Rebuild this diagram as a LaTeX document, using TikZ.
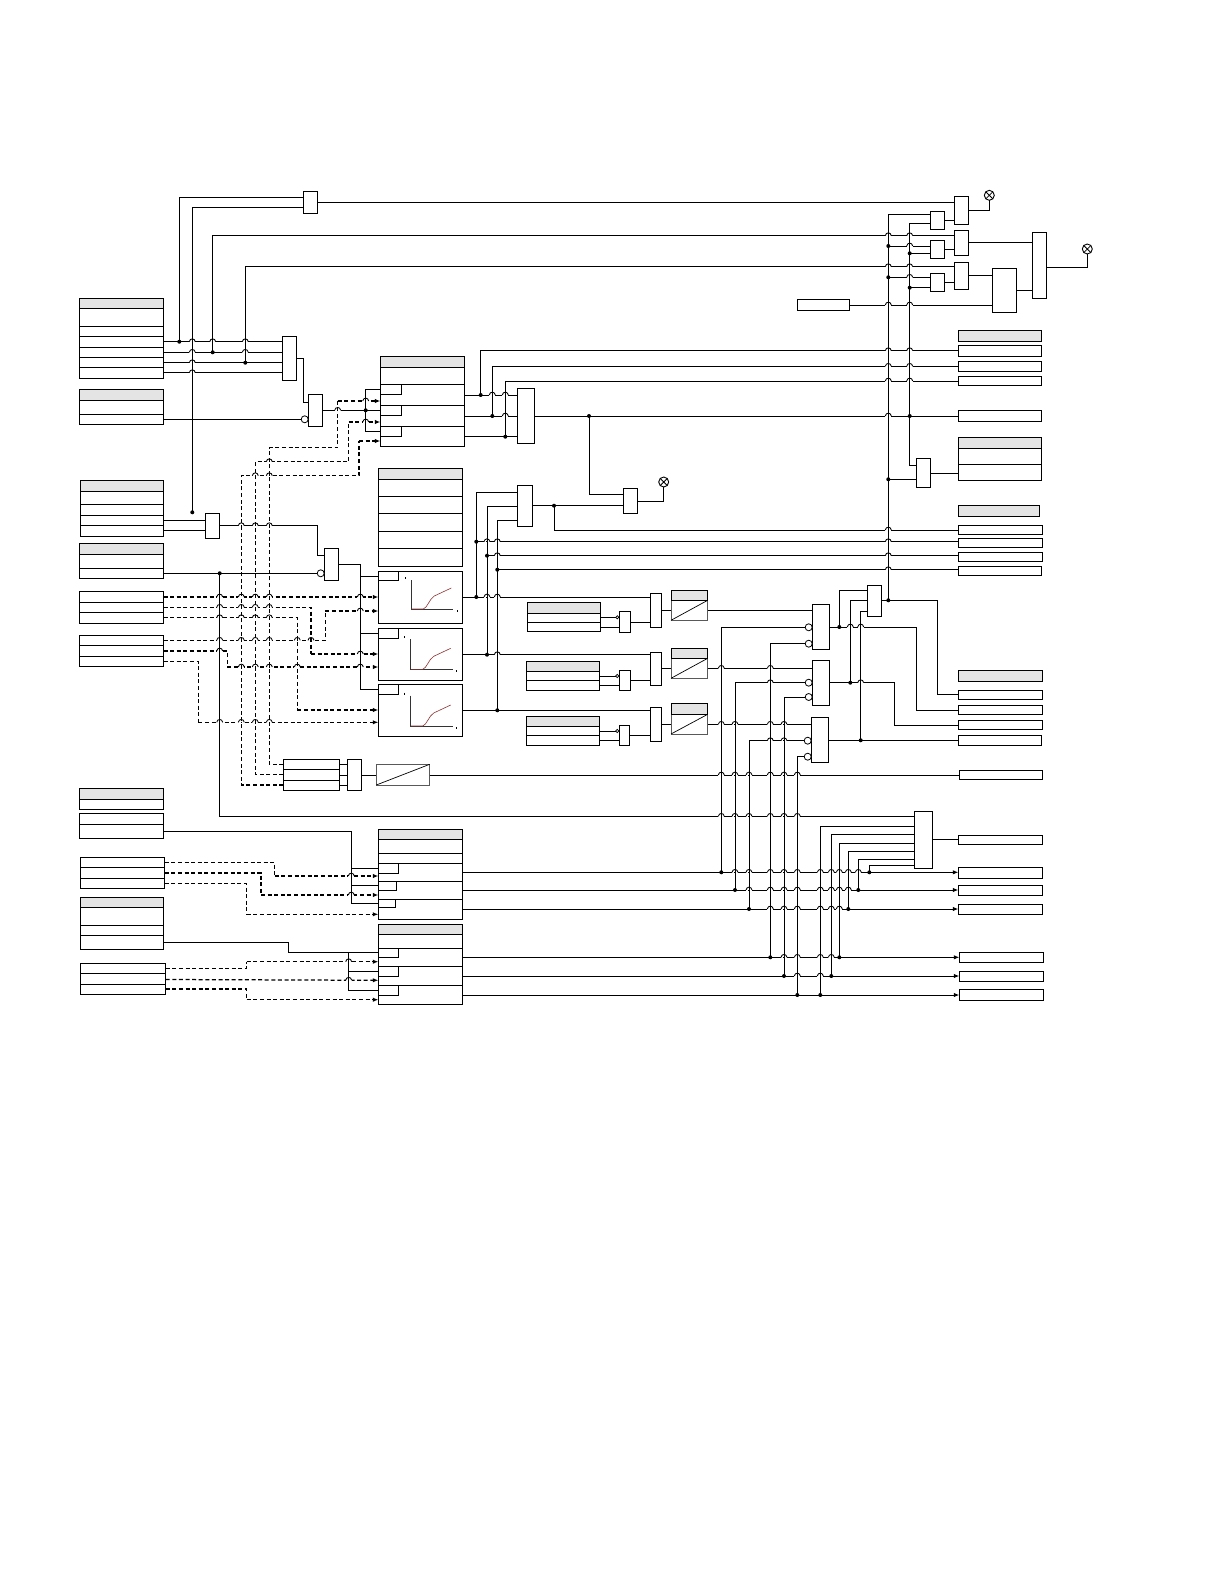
\documentclass[tikz,border=0pt]{standalone}
\usetikzlibrary{arrows.meta}
\definecolor{hdr}{HTML}{E4E4E4}
\tikzset{
  blockbox/.style={draw=black,fill=white,line width=.9pt,inner sep=0pt,outer sep=0pt,rectangle},
  wire/.style={line width=1pt,black},
  dwire/.style={line width=1.25pt,black,dash pattern=on 4pt off 2.6pt},
  arr/.style={-{Latex[length=5.5pt,width=4.5pt]}},
  invc/.style={circle,draw=black,fill=white,line width=.8pt,minimum size=7pt,inner sep=0pt,outer sep=0pt},
  invs/.style={circle,draw=black,fill=white,line width=.7pt,minimum size=3.2pt,inner sep=0pt,outer sep=0pt},
  lampc/.style={circle,draw=black,fill=white,line width=.9pt,minimum size=10pt,inner sep=0pt,outer sep=0pt}
}
% block: [opts]{name}{x1}{x2}{y1}{y2}
\newcommand\blk[6][]{\node[blockbox,minimum width={(#4-#3)*1pt},minimum height={(#6-#5)*1pt},#1] (#2) at ({(#3+#4)/2},{(#5+#6)/2}) {};}
% table with header: {name}{x1}{x2}{ytop}{ybot}{yheader}{rows}
\newcommand\tbl[7]{\blk{#1}{#2}{#3}{#4}{#5}\draw[fill=hdr,line width=.9pt] (#2,#4) rectangle (#3,#6);\foreach \rr in {#7}{\draw[line width=.9pt] (#2,\rr) -- (#3,\rr);}}
% table without header
\newcommand\tbp[6]{\blk{#1}{#2}{#3}{#4}{#5}\foreach \rr in {#6}{\draw[line width=.9pt] (#2,\rr) -- (#3,\rr);}}
% hop of a horizontal wire over a vertical one
\newcommand\hop[2]{\draw[white,line width=1.6pt] ({#1-3},#2) -- ({#1-.7},#2) ({#1+.7},#2) -- ({#1+3},#2);\draw[line width=.85pt] ({#1-3},#2) .. controls ({#1-2.4},{#2-3.8}) and ({#1+2.4},{#2-3.8}) .. ({#1+3},#2);}
\newcommand\hops[2]{\foreach \hh in {#2}{\hop{\hh}{#1}}}
\newcommand\jd[2]{\fill (#1,#2) circle (2pt);}
\newcommand\hl[3]{\draw[wire] (#1.east|-0,#3) -- (#2.west|-0,#3);}
\newcommand\lamp[3]{\node[lampc] (#1) at (#2,#3) {};\draw[line width=.8pt] (#1.north west) -- (#1.south east) (#1.north east) -- (#1.south west);}
\newcommand\plotg[3]{\draw[line width=.8pt,black!80] (#1,#2) -- (#1,#3) -- ({#1+42},#3);
  \draw[line width=.6pt,black!55!red!80] (#1,#3) -- ({#1+12},#3) .. controls ({#1+16},{#3-1}) and ({#1+18},{#3-10}) .. ({#1+23},{#3-13}) -- ({#1+40},{#3-21});
  \draw[line width=.5pt] ({#1-6},{#2-3}) -- ({#1-6},{#2-1}) ({#1+46},{#3+1}) -- ({#1+46},{#3+3});}
\begin{document}
\begin{tikzpicture}[x=1pt,y=-1pt]
\useasboundingbox[fill=white] (0,0) rectangle (1224,1584);
% ---------- left tables
\tbl{T1}{79.5}{163.5}{298.3}{378.3}{308.3}{326.3,336.3,347.3,357.3,367.3}
\tbl{T2}{79.5}{163.5}{389.3}{424.3}{400.3}{414.3}
\tbl{T3}{80.3}{163.7}{480.3}{536.3}{491.3}{504.3,515.3,525.3}
\tbl{T4}{79.5}{163.5}{543.3}{578.3}{554.3}{568.3}
\tbp{T5}{79.5}{163.5}{591.3}{623.3}{602.3,612.3}
\tbp{T6}{79.5}{163.5}{635.3}{666.3}{645.3,656.3}
\tbl{T8}{79.5}{163.5}{788.3}{809.3}{799.3}{799.3}
\tbp{T9}{79.5}{163.5}{813.3}{838.3}{824.3}
\tbp{T10}{80.3}{164.7}{857.3}{888.3}{867.3,878.3}
\tbl{T11}{80.3}{163.7}{897.3}{949.3}{907.3}{925.3,935.3}
\tbp{T12}{80.3}{165.7}{963.3}{994.3}{973.3,984.3}
% ---------- central blocks
\tbl{B1}{380.3}{464.7}{356.3}{446.3}{367.3}{384.3,405.3,426.3}
\blk{B1a}{380.3}{401.7}{384.3}{394.3}\blk{B1b}{380.3}{401.7}{405.3}{415.7}\blk{B1c}{380.3}{401.7}{426.3}{436.3}
\tbl{B4}{378.3}{462.7}{468.7}{566.3}{479.3}{496.3,513.3,531.3,548.3}
\blk{P1}{378.3}{462.7}{571.3}{623.3}\blk{P1a}{378.3}{398.3}{571.3}{580.3}
\blk{P2}{378.3}{462.7}{628.3}{680.3}\blk{P2a}{378.3}{398.3}{628.3}{638.3}
\blk{P3}{378.3}{462.7}{684.3}{736.3}\blk{P3a}{378.3}{398.3}{684.3}{694.3}
\plotg{411.3}{580}{609}\plotg{410.7}{639.3}{669.3}\plotg{410.7}{695.7}{726}
\tbp{T7}{283.3}{339.3}{759.3}{790.3}{769.3,780}
\tbl{B2}{378.3}{462.7}{829.3}{919.3}{839.3}{853.3,863.3,881,899.3}
\blk{B2a}{378.3}{398.3}{863.3}{873.3}\blk{B2b}{378.3}{396.3}{881}{890.3}\blk{B2c}{378.3}{395.3}{899.3}{907.3}
\tbl{B3}{378.3}{462.7}{924.3}{1004.3}{934.3}{948.7,966.7,985.3}
\blk{B3a}{378.3}{398.3}{948.7}{957.3}\blk{B3b}{378.3}{398.3}{966.7}{976.3}\blk{B3c}{378.3}{398.3}{985.3}{995.3}
\tbl{Tb1}{527.3}{600.7}{602.3}{631.7}{613.3}{622.3}
\tbl{Tb2}{526.3}{599.7}{661.3}{690.3}{671.3}{680.3}
\tbl{Tb3}{526.3}{599.7}{716.3}{745.3}{726.3}{735.3}
% ---------- gates
\blk{G0}{303.3}{317.7}{191.3}{213.7}
\blk{G1}{282.3}{296.7}{336.3}{380.3}
\blk{G2}{308.3}{322.3}{394.3}{426.3}
\blk{G3}{205.3}{219.7}{513.3}{538.3}
\blk{G4}{324.3}{338.7}{548.3}{580.3}
\blk{G5}{347.3}{361.7}{759.3}{790.3}
\blk{G6}{517.3}{534.3}{388.3}{443.3}
\blk{G7}{623.3}{637.7}{488.3}{513.3}
\blk{G8}{517.3}{532.7}{485.3}{526.3}
\blk{Sg1}{619.3}{630.7}{611.3}{632.7}\blk{Sg2}{619.3}{630.7}{670}{690.3}\blk{Sg3}{619.3}{629.7}{725.3}{745.3}
\blk{Gm1}{650.3}{661.7}{593.3}{627.3}\blk{Gm2}{650.3}{661.7}{652.3}{685.3}\blk{Gm3}{650.3}{661.7}{707.3}{741.7}
\blk{Gb1}{812.3}{829.3}{604.3}{649.3}\blk{Gb2}{812.3}{829.3}{660.3}{705.3}\blk{Gb3}{811.3}{828.3}{717.3}{762.3}
\blk{Gt}{867.3}{881.7}{585.3}{616.3}
\blk{Gz}{914.3}{932.3}{811.3}{868.3}
\blk{Gk}{916.3}{930.7}{458.3}{487.3}
\blk{Gt1}{954.3}{968.7}{196.3}{224.3}\blk{Gt2}{954.3}{968.7}{230.3}{255.7}\blk{Gt3}{954.3}{968.7}{262.3}{289.3}
\blk{S1}{930.3}{944.7}{211.3}{229.3}\blk{S2}{930.3}{944.7}{240.3}{258.3}\blk{S3}{930.3}{944.7}{273.3}{291.3}
\blk{Big}{1032.3}{1046.7}{232.3}{298.3}
\blk{Mid}{992.3}{1016.7}{268.3}{312.7}
\blk{Src}{797.3}{849.7}{299.3}{310.3}
% ---------- ramps
\blk[draw=black!65]{Rm0}{376.3}{429.7}{764.3}{785}\draw[line width=.7pt] (Rm0.south west) -- (Rm0.north east);
\blk[draw=black!65]{R1}{671}{707.7}{600.3}{620.3}\draw[line width=.7pt] (R1.south west) -- (R1.north east);\blk[fill=hdr]{R1h}{671}{707.7}{590.3}{600.3}
\blk[draw=black!65]{R2}{671}{707.7}{658.3}{678.3}\draw[line width=.7pt] (R2.south west) -- (R2.north east);\blk[fill=hdr]{R2h}{671}{707.7}{648.3}{658.3}
\blk[draw=black!65]{R3}{671}{707.7}{714.3}{734}\draw[line width=.7pt] (R3.south west) -- (R3.north east);\blk[fill=hdr]{R3h}{671}{707.7}{703.3}{714.3}
% ---------- right boxes
\blk[fill=hdr]{H1}{958.3}{1041.7}{330.3}{341.7}
\blk{O1}{958.3}{1041.7}{345.3}{356.3}\blk{O2}{958.3}{1041.7}{361.3}{371.7}\blk{O3}{958.3}{1041.7}{376.3}{385.3}
\blk{O4}{958.3}{1041.7}{410.3}{421.3}
\tbl{O5}{958.3}{1041.7}{437.3}{480.3}{448}{464.3}
\blk[fill=hdr]{H2}{958.3}{1039.7}{505.3}{516.3}
\blk{O6}{958.3}{1042.7}{525.3}{534.3}\blk{O7}{958.3}{1042.7}{538.3}{547.7}\blk{O8}{958.3}{1042.7}{552.3}{561.3}\blk{O9}{958.3}{1041.7}{566.3}{575.3}
\blk[fill=hdr]{H3}{958.3}{1042.7}{670.3}{681.3}
\blk{O10}{958.3}{1042.7}{690.3}{699.3}\blk{O11}{958.3}{1042.7}{705.3}{714.3}\blk{O12}{958.3}{1042.7}{720.3}{729.7}\blk{O13}{958.3}{1041.7}{735.3}{745.3}
\blk{O14}{959.3}{1042.7}{770.3}{779.7}
\blk{O15}{958.3}{1042.7}{835.3}{844.3}
\blk{O16}{958.3}{1042.7}{867.3}{878.3}\blk{O17}{958.3}{1042.7}{885.3}{895.3}\blk{O18}{958.3}{1042.7}{904.3}{914.3}
\blk{O19}{959.3}{1043.7}{952.3}{962.3}\blk{O20}{959.3}{1043.7}{971.3}{981.3}\blk{O21}{959.3}{1043.7}{989.3}{1000.3}
% ---------- lamps
\lamp{L1}{663.7}{482}\lamp{L2}{989.3}{195.3}\lamp{L3}{1087.3}{249}
% ---------- inversion circles
\node[invc] (I1) at (304.7,419.3) {};
\node[invc] (I2) at (320.7,573.3) {};
\node[invc] (I3) at (808.7,627.3) {};\node[invc] (I4) at (808.7,643.7) {};
\node[invc] (I5) at (808.7,682.7) {};\node[invc] (I6) at (808.7,697) {};
\node[invc] (I7) at (807.7,740.7) {};\node[invc] (I8) at (807.7,756.7) {};
\node[invs] (I9) at (617.3,617.3) {};\node[invs] (I10) at (617.3,676) {};\node[invs] (I11) at (617.3,731) {};
% ---------- solid horizontals from T1
\hl{T1}{G1}{341.7}\hl{T1}{G1}{352.3}\hl{T1}{G1}{362.7}\hl{T1}{G1}{372.7}
\hops{341.7}{192.3,212.7,245.3}\hops{352.3}{192.3,245.3}\hops{362.7}{192.3}\hops{372.7}{192.3}
\draw[wire] (179.3,341.7) -- (179.3,197.3) -- (G0.west|-0,197.3);
\draw[wire] (192.3,512.3) -- (192.3,207.3) -- (G0.west|-0,207.3);
\jd{179.3}{341.7}\jd{192.3}{512.3}
\draw[wire] (212.7,352.3) -- (212.7,235.7) -- (Gt2.west|-0,235.7);
\draw[wire] (245.3,362.7) -- (245.3,266.7) -- (Gt3.west|-0,266.7);
\jd{212.7}{352.3}\jd{245.3}{362.7}
\hl{G0}{Gt1}{202.7}
\hops{235.7}{888.3,909.7}\hops{266.7}{888.3,909.7}
% G1 -> G2
\draw[wire] (G1.east|-0,358.3) -- (303.3,358.3) -- (303.3,402.3) -- (G2.west|-0,402.3);
\draw[wire] (T2.east|-0,419.3) -- (I1.west);
% G2 -> B1
\hl{G2}{B1}{410.3}
\draw[wire] (B1.west|-0,389.3) -- (365.7,389.3) -- (365.7,431.3) -- (B1.west|-0,431.3);
\jd{365.7}{410.3}
% dashed to B1 / T7
\draw[dwire] (T7.west|-0,764.3) -- (269.3,764.3) -- (269.3,447.7) -- (337.7,447.7) -- (337.7,401);
\draw[dwire,arr] (337.7,401) -- (B1.west|-0,401);
\draw[dwire] (T7.west|-0,774.7) -- (255.3,774.7) -- (255.3,461.7) -- (348.7,461.7) -- (348.7,422);
\draw[dwire,arr] (348.7,422) -- (B1.west|-0,422);
\draw[dwire] (T7.west|-0,785) -- (241.3,785) -- (241.3,475.7) -- (359,475.7) -- (359,441);
\draw[dwire,arr] (359,441) -- (B1.west|-0,441);
\hop{337.7}{410.3}\hop{365.7}{401}\hop{365.7}{422}
\hops{461.7}{269.3}\hops{475.7}{255.3,269.3}
% T3 -> G3 -> G4
\hl{T3}{G3}{520.3}\hl{T3}{G3}{530.3}
\draw[wire] (G3.east|-0,525.7) -- (317,525.7) -- (317,555) -- (G4.west|-0,555);
\hops{525.7}{241.3,255.3,269.3}
\draw[wire] (T4.east|-0,573.3) -- (I2.west);
\draw[wire] (219.7,573.3) -- (219.7,816.3) -- (Gz.west|-0,816.3);\jd{219.7}{573.3}
\hops{816.3}{721.3,735,749,770.3,784,797.3}
% G4 -> plots
\draw[wire] (G4.east|-0,564.3) -- (360.3,564.3) -- (360.3,689.3) -- (P3.west|-0,689.3);
\draw[wire] (360.3,576.3) -- (P1.west|-0,576.3) (360.3,633.3) -- (P2.west|-0,633.3);
% dashed T5 T6
\draw[dwire,arr] (T5.east|-0,597) -- (P1.west|-0,597);
\draw[dwire] (T5.east|-0,607.3) -- (311,607.3) -- (311,654);
\draw[dwire,arr] (311,654) -- (P2.west|-0,654);
\draw[dwire] (T5.east|-0,617.7) -- (297.3,617.7) -- (297.3,710);
\draw[dwire,arr] (297.3,710) -- (P3.west|-0,710);
\draw[dwire] (T6.east|-0,640.3) -- (325.3,640.3) -- (325.3,611);
\draw[dwire,arr] (325.3,611) -- (P1.west|-0,611);
\draw[dwire] (T6.east|-0,651) -- (227.3,651) -- (227.3,667);
\draw[dwire,arr] (227.3,667) -- (P2.west|-0,667);
\draw[dwire] (T6.east|-0,661.3) -- (198.3,661.3) -- (198.3,722.3);
\draw[dwire,arr] (198.3,722.3) -- (P3.west|-0,722.3);
\hops{597}{219.7,241.3,255.3,269.3,360.3}
\hops{607.3}{219.7,241.3,255.3,269.3}
\hops{617.7}{219.7,241.3,255.3,269.3}
\hops{640.3}{219.7,241.3,255.3,269.3,297.3,311}
\hop{219.7}{651}
\hops{667}{241.3,255.3,269.3,297.3,360.3}
\hops{722.3}{219.7,241.3,255.3,269.3}
\hops{654}{360.3}\hops{611}{360.3}
% T7 -> G5 -> ramp
\hl{T7}{G5}{764.3}\hl{T7}{G5}{775}\hl{T7}{G5}{785}
\hl{G5}{Rm0}{775}\hl{Rm0}{O14}{775}
\hops{775}{721.3,735,749,770.3,784,797.3}
% T9 -> B2
\draw[wire] (T9.east|-0,831.3) -- (351.3,831.3) -- (351.3,903.3) -- (B2.west|-0,903.3);
\draw[wire] (351.3,868.3) -- (B2.west|-0,868.3) (351.3,885.3) -- (B2.west|-0,885.3);
\draw[dwire] (T10.east|-0,862.3) -- (274.7,862.3) -- (274.7,876);
\draw[dwire,arr] (274.7,876) -- (B2.west|-0,876);
\draw[dwire] (T10.east|-0,873) -- (261,873) -- (261,895);
\draw[dwire,arr] (261,895) -- (B2.west|-0,895);
\draw[dwire] (T10.east|-0,883.7) -- (246.7,883.7) -- (246.7,914.3);
\draw[dwire,arr] (246.7,914.3) -- (B2.west|-0,914.3);
\hop{351.3}{876}\hop{351.3}{895}
% T11 -> B3
\draw[wire] (T11.east|-0,942.3) -- (288.7,942.3) -- (288.7,952.3) -- (B3.west|-0,952.3);
\draw[wire] (348.7,952.3) -- (348.7,990.3) -- (B3.west|-0,990.3);
\draw[wire] (348.7,971.3) -- (B3.west|-0,971.3);
\draw[dwire] (T12.east|-0,968.3) -- (246.7,968.3) -- (246.7,961.7);
\draw[dwire,arr] (246.7,961.7) -- (B3.west|-0,961.7);
\draw[dwire,arr] (T12.east|-0,979.5) -- (B3.west|-0,980.3);
\draw[dwire] (T12.east|-0,989) -- (246.7,989) -- (246.7,999.7);
\draw[dwire,arr] (246.7,999.7) -- (B3.west|-0,999.7);
\hop{348.7}{961.7}\hop{348.7}{980.2}
% B1 outputs
\hl{B1}{G6}{395}\hl{B1}{G6}{416}\hl{B1}{G6}{436.7}
\hops{395}{492.3,505.3}\hops{416}{505.3}
\draw[wire] (480.7,395) -- (480.7,350.7) -- (O1.west|-0,350.7);\jd{480.7}{395}
\draw[wire] (492.3,416) -- (492.3,366.3) -- (O2.west|-0,366.3);\jd{492.3}{416}
\draw[wire] (505.3,436.7) -- (505.3,381) -- (O3.west|-0,381);\jd{505.3}{436.7}
\hops{350.7}{888.3,909.7}\hops{366.3}{888.3,909.7}\hops{381}{888.3,909.7}
\hl{G6}{O4}{416}\hop{888.3}{416}\jd{909.7}{416}\jd{589}{416}
\draw[wire] (589,416) -- (589,494.3) -- (G7.west|-0,494.3);
\draw[wire] (G7.east|-0,501.3) -- (663.7,501.3) -- (L1.south);
% G8
\draw[wire] (G8.west|-0,492.7) -- (476.3,492.7) -- (476.3,597);
\draw[wire] (G8.west|-0,506.7) -- (487,506.7) -- (487,654.7);
\draw[wire] (G8.west|-0,520.3) -- (497.3,520.3) -- (497.3,710.3);
\hl{G8}{G7}{505.7}\jd{554}{505.7}
\draw[wire] (554,505.7) -- (554,530) -- (O6.west|-0,530);
\draw[wire] (476.3,541.7) -- (O7.west|-0,541.7);\jd{476.3}{541.7}\hops{541.7}{487,497.3,888.3}
\draw[wire] (487,555.7) -- (O8.west|-0,555.7);\jd{487}{555.7}\hops{555.7}{497.3,888.3}
\draw[wire] (497.3,569.7) -- (O9.west|-0,569.7);\jd{497.3}{569.7}\hop{888.3}{569.7}
\hop{888.3}{530}
% plots outputs
\hl{P1}{Gm1}{597}\jd{476.3}{597}\hops{597}{487,497.3}
\hl{P2}{Gm2}{654.7}\jd{487}{654.7}\hop{497.3}{654.7}
\hl{P3}{Gm3}{710.3}\jd{497.3}{710.3}
% small tables & gates
\draw[wire] (Tb1.east|-0,617.3) -- (I9.west);\hl{Tb1}{Sg1}{627.3}
\draw[wire] (Tb2.east|-0,676) -- (I10.west);\hl{Tb2}{Sg2}{685.3}
\draw[wire] (Tb3.east|-0,731) -- (I11.west);\hl{Tb3}{Sg3}{740.3}
\hl{Sg1}{Gm1}{622.3}\hl{Sg2}{Gm2}{680}\hl{Sg3}{Gm3}{735.3}
\hl{Gm1}{R1}{610.3}\hl{Gm2}{R2}{668.3}\hl{Gm3}{R3}{724.3}
\hl{R1}{Gb1}{610.3}\hl{R2}{Gb2}{668.3}\hl{R3}{Gb3}{724.3}
\hops{668.3}{721.3,770.3}\hops{724.3}{721.3,735,770.3,784}
% verticals feeding Gb gates
\draw[wire] (I3.west) -- (721.3,627.3) -- (721.3,872.3);
\draw[wire] (I5.west) -- (735,682.7) -- (735,890);
\draw[wire] (I7.west) -- (749,740.7) -- (749,909);
\draw[wire] (I4.west) -- (770.3,643.7) -- (770.3,957.3);
\draw[wire] (I6.west) -- (784,697) -- (784,976);
\draw[wire] (I8.west) -- (797.3,756.7) -- (797.3,995);
\hops{682.7}{770.3}\hops{740.7}{770.3,784}
% Gz inputs
\draw[wire] (Gz.west|-0,826.3) -- (820.3,826.3) -- (820.3,995);
\draw[wire] (Gz.west|-0,834.3) -- (831.3,834.3) -- (831.3,976);
\draw[wire] (Gz.west|-0,843.3) -- (839.3,843.3) -- (839.3,957.3);
\draw[wire] (Gz.west|-0,851.3) -- (848.3,851.3) -- (848.3,909);
\draw[wire] (Gz.west|-0,859.3) -- (858.3,859.3) -- (858.3,890);
\draw[wire] (Gz.west|-0,865.3) -- (869.3,865.3) -- (869.3,872.3);
\hl{Gz}{O15}{839.3}
% bottom buses
\draw[wire,arr] (B2.east|-0,872.3) -- (O16.west|-0,872.3);
\draw[wire,arr] (B2.east|-0,890) -- (O17.west|-0,890);
\draw[wire,arr] (B2.east|-0,909) -- (O18.west|-0,909);
\draw[wire,arr] (B3.east|-0,957.3) -- (O19.west|-0,957.3);
\draw[wire,arr] (B3.east|-0,976) -- (O20.west|-0,976);
\draw[wire,arr] (B3.east|-0,995) -- (O21.west|-0,995);
\jd{721.3}{872.3}\jd{869.3}{872.3}\hops{872.3}{735,749,770.3,784,797.3,820.3,831.3,839.3,848.3,858.3}
\jd{735}{890}\jd{858.3}{890}\hops{890}{749,770.3,784,797.3,820.3,831.3,839.3,848.3}
\jd{749}{909}\jd{848.3}{909}\hops{909}{770.3,784,797.3,820.3,831.3,839.3}
\jd{770.3}{957.3}\jd{839.3}{957.3}\hops{957.3}{784,797.3,820.3,831.3}
\jd{784}{976}\jd{831.3}{976}\hops{976}{797.3,820.3}
\jd{797.3}{995}\jd{820.3}{995}
% Gb outputs
\draw[wire] (Gb1.east|-0,627) -- (916.3,627) -- (916.3,710) -- (O11.west|-0,710);
\draw[wire] (Gb2.east|-0,682.7) -- (894,682.7) -- (894,725) -- (O12.west|-0,725);
\hl{Gb3}{O13}{740.3}
\draw[wire] (Gt.west|-0,590.3) -- (839.3,590.3) -- (839.3,627);\jd{839.3}{627}
\draw[wire] (Gt.west|-0,600.3) -- (850.3,600.3) -- (850.3,682.7);\jd{850.3}{682.7}
\draw[wire] (Gt.west|-0,611.3) -- (860.7,611.3) -- (860.7,740.3);\jd{860.7}{740.3}
\hops{627}{850.3,860.7}\hop{860.7}{682.7}
\draw[wire] (Gt.east|-0,600.3) -- (937.7,600.3) -- (937.7,694.3) -- (O10.west|-0,694.3);
\jd{888.3}{600.3}
% top right buses
\draw[wire] (888.3,600.3) -- (888.3,214.3) -- (S1.west|-0,214.3);
\draw[wire] (S1.west|-0,223.3) -- (909.7,223.3) -- (909.7,465.7) -- (Gk.west|-0,465.7);
\draw[wire] (888.3,479.3) -- (Gk.west|-0,479.3);\jd{888.3}{479.3}
\hl{Gk}{O5}{473.3}
\hl{S1}{Gt1}{220}\hl{S2}{Gt2}{249.3}\hl{S3}{Gt3}{282.3}
\draw[wire] (888.3,246) -- (S2.west|-0,246);\jd{888.3}{246}\hop{909.7}{246}
\draw[wire] (909.7,253.3) -- (S2.west|-0,253.3);\jd{909.7}{253.3}
\draw[wire] (888.3,277.3) -- (S3.west|-0,277.3);\jd{888.3}{277.3}\hop{909.7}{277.3}
\draw[wire] (909.7,287.7) -- (S3.west|-0,287.7);\jd{909.7}{287.7}
\draw[wire] (Gt1.east|-0,210.3) -- (989.3,210.3) -- (L2.south);
\hl{Gt2}{Big}{242.3}\hl{Gt3}{Mid}{275.3}\hl{Mid}{Big}{290.3}
\draw[wire] (Big.east|-0,267.3) -- (1087.3,267.3) -- (L3.south);
\hl{Src}{Mid}{305}\hops{305}{888.3,909.7}
\end{tikzpicture}
\end{document}
